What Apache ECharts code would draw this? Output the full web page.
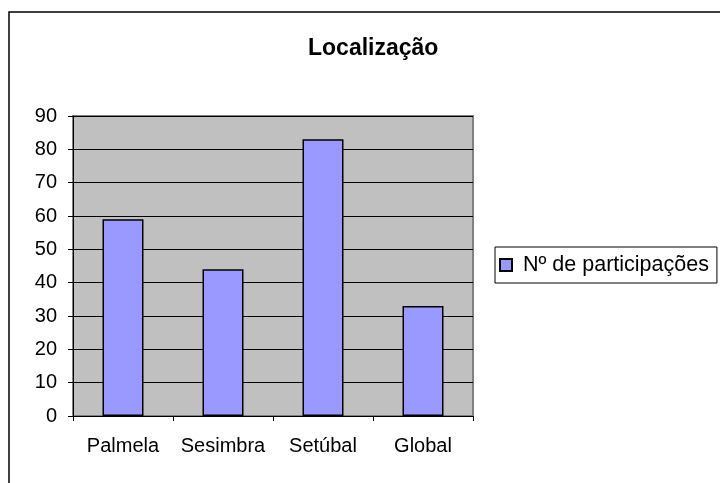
<!DOCTYPE html>
<html>
<head>
<meta charset="utf-8">
<script src="https://cdn.jsdelivr.net/npm/echarts@6/dist/echarts.min.js"></script>
<style>
  html, body { margin: 0; padding: 0; background: #fff; }
  #container { width: 720px; height: 483px; }
</style>
</head>
<body>
<div id="container"></div>
<script>
var categories = ['Palmela', 'Sesimbra', 'Setúbal', 'Global'];
var participacoes = [59, 44, 83, 33];
var seriesName = 'Nº de participações';
var chartTitle = 'Localização';

var myChart = echarts.init(document.getElementById('container'));
var font = 'Liberation Sans, Arial, sans-serif';
var option = {
  animation: false,
  backgroundColor: '#fff',
  title: {
    text: chartTitle,
    left: 303,
    top: 32,
    textStyle: { fontFamily: font, fontSize: 23, fontWeight: 'bold', color: '#000' }
  },
  graphic: [{
    type: 'rect',
    shape: { x: 9, y: 12, width: 800, height: 600 },
    style: { fill: 'none', stroke: '#000', lineWidth: 1.5 },
    silent: true
  }],
  legend: {
    left: 495,
    top: 247,
    orient: 'vertical',
    padding: [7, 8, 7, 4],
    icon: 'rect',
    itemWidth: 12,
    itemHeight: 12,
    borderColor: '#000',
    borderWidth: 1,
    textStyle: { fontFamily: font, fontSize: 21.5, color: '#000', padding: [0, 0, 0, 6] },
    data: [seriesName]
  },
  grid: {
    left: 73,
    top: 116,
    width: 400,
    height: 300,
    show: true,
    backgroundColor: '#c0c0c0',
    borderColor: '#808080',
    borderWidth: 2
  },
  xAxis: {
    type: 'category',
    data: categories,
    axisLine: { lineStyle: { color: '#000', width: 1 } },
    axisTick: { show: true, length: 5, lineStyle: { color: '#000' } },
    axisLabel: { interval: 0, margin: 20, color: '#000', fontFamily: font, fontSize: 20 }
  },
  yAxis: {
    type: 'value',
    min: 0,
    max: 90,
    interval: 10,
    axisLine: { show: true, lineStyle: { color: '#000', width: 1 } },
    axisTick: { show: true, length: 5, lineStyle: { color: '#000' } },
    axisLabel: { margin: 16, color: '#000', fontFamily: font, fontSize: 20 },
    splitLine: { lineStyle: { color: '#000', width: 1 } }
  },
  series: [{
    name: seriesName,
    type: 'bar',
    data: participacoes,
    barWidth: 41,
    itemStyle: { color: '#9999ff', borderColor: '#000', borderWidth: 1.5 }
  }]
};
myChart.setOption(option);
</script>
</body>
</html>
